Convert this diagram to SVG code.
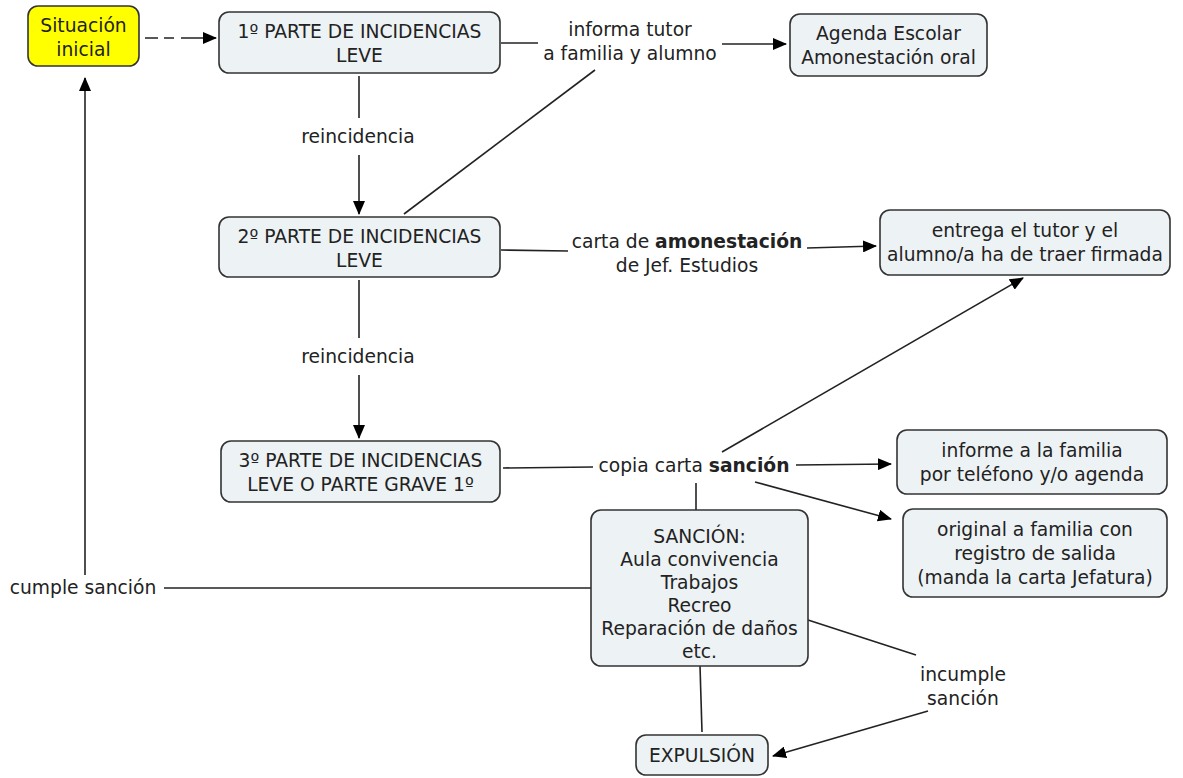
<svg xmlns="http://www.w3.org/2000/svg" width="1183" height="778" viewBox="0 0 1183 778">
<style>
.n{fill:#edf2f5;stroke:#333;stroke-width:1.6}
.y{fill:#ffff00;stroke:#333;stroke-width:1.6}
text{font-family:"DejaVu Sans",Verdana,sans-serif;font-size:18.7px;fill:#222;text-anchor:middle}
.c{stroke:#222;stroke-width:1.6;fill:none}
.b{font-weight:bold}
</style>
<defs>
<marker id="a" markerWidth="14" markerHeight="12" refX="13" refY="6" orient="auto" markerUnits="userSpaceOnUse"><path d="M0,0L14,6L0,12z" fill="#000"/></marker>
</defs>
<g id="connectors">
<line class="c" x1="145" y1="38" x2="216" y2="38" stroke-dasharray="13,6,10,7,60" marker-end="url(#a)"/>
<line class="c" x1="501" y1="43" x2="538" y2="43"/>
<line class="c" x1="722" y1="44" x2="786" y2="44" marker-end="url(#a)"/>
<line class="c" x1="404" y1="214" x2="595" y2="70"/>
<line class="c" x1="359" y1="76" x2="359" y2="118"/>
<line class="c" x1="359" y1="155" x2="359" y2="214" marker-end="url(#a)"/>
<line class="c" x1="501" y1="250" x2="568" y2="251"/>
<line class="c" x1="807" y1="248" x2="876" y2="246" marker-end="url(#a)"/>
<line class="c" x1="359" y1="280" x2="359" y2="338"/>
<line class="c" x1="359" y1="375" x2="359" y2="438" marker-end="url(#a)"/>
<line class="c" x1="503" y1="468" x2="593" y2="467"/>
<line class="c" x1="796" y1="465" x2="891" y2="464" marker-end="url(#a)"/>
<line class="c" x1="722" y1="452" x2="1023" y2="278" marker-end="url(#a)"/>
<line class="c" x1="755" y1="482" x2="891" y2="519" marker-end="url(#a)"/>
<line class="c" x1="696" y1="483" x2="696" y2="510" stroke-width="2.2"/>
<line class="c" x1="591" y1="588" x2="164" y2="588"/>
<line class="c" x1="85" y1="575" x2="85" y2="78" marker-end="url(#a)"/>
<line class="c" x1="808" y1="620" x2="916" y2="655"/>
<line class="c" x1="928" y1="711" x2="773" y2="756" marker-end="url(#a)"/>
<line class="c" x1="700" y1="666" x2="702" y2="732"/>
</g>
<g id="situacion"><rect class="y" x="28" y="6" width="111" height="60" rx="10"/><text x="83.5" y="32">Situación</text><text x="83.5" y="56">inicial</text></g>
<g id="parte1"><rect class="n" x="219" y="12" width="281" height="61" rx="10"/><text x="359.5" y="38">1º PARTE DE INCIDENCIAS</text><text x="359.5" y="62">LEVE</text></g>
<g id="agenda"><rect class="n" x="790" y="14" width="197" height="62" rx="10"/><text x="888.5" y="40">Agenda Escolar</text><text x="888.5" y="64">Amonestación oral</text></g>
<g id="parte2"><rect class="n" x="219" y="217" width="281" height="60" rx="10"/><text x="359.5" y="243">2º PARTE DE INCIDENCIAS</text><text x="359.5" y="267">LEVE</text></g>
<g id="entrega"><rect class="n" x="880" y="210" width="290" height="65" rx="10"/><text x="1025" y="237">entrega el tutor y el</text><text x="1025" y="261">alumno/a ha de traer firmada</text></g>
<g id="parte3"><rect class="n" x="221" y="441" width="279" height="61" rx="10"/><text x="360.5" y="467">3º PARTE DE INCIDENCIAS</text><text x="360.5" y="491">LEVE O PARTE GRAVE 1º</text></g>
<g id="informe"><rect class="n" x="897" y="430" width="270" height="64" rx="10"/><text x="1032" y="457">informe a la familia</text><text x="1032" y="481">por teléfono y/o agenda</text></g>
<g id="original"><rect class="n" x="903" y="509" width="264" height="88" rx="10"/><text x="1035" y="536">original a familia con</text><text x="1035" y="560">registro de salida</text><text x="1035" y="584">(manda la carta Jefatura)</text></g>
<g id="sancion"><rect class="n" x="591" y="510" width="217" height="156" rx="10"/><text x="699.5" y="543">SANCIÓN:</text><text x="699.5" y="566">Aula convivencia</text><text x="699.5" y="589">Trabajos</text><text x="699.5" y="612">Recreo</text><text x="699.5" y="635">Reparación de daños</text><text x="699.5" y="658">etc.</text></g>
<g id="expulsion"><rect class="n" x="636" y="735" width="132" height="40" rx="10"/><text x="702" y="762">EXPULSIÓN</text></g>
<g id="labels">
<text x="630" y="36">informa tutor</text><text x="630" y="60">a familia y alumno</text>
<text x="358" y="143">reincidencia</text>
<text x="358" y="363">reincidencia</text>
<text x="687" y="248">carta de <tspan class="b">amonestación</tspan></text><text x="687" y="272">de Jef. Estudios</text>
<text x="694" y="472">copia carta <tspan class="b">sanción</tspan></text>
<text x="83" y="594">cumple sanción</text>
<text x="963" y="681">incumple</text><text x="963" y="705">sanción</text>
</g>
</svg>
